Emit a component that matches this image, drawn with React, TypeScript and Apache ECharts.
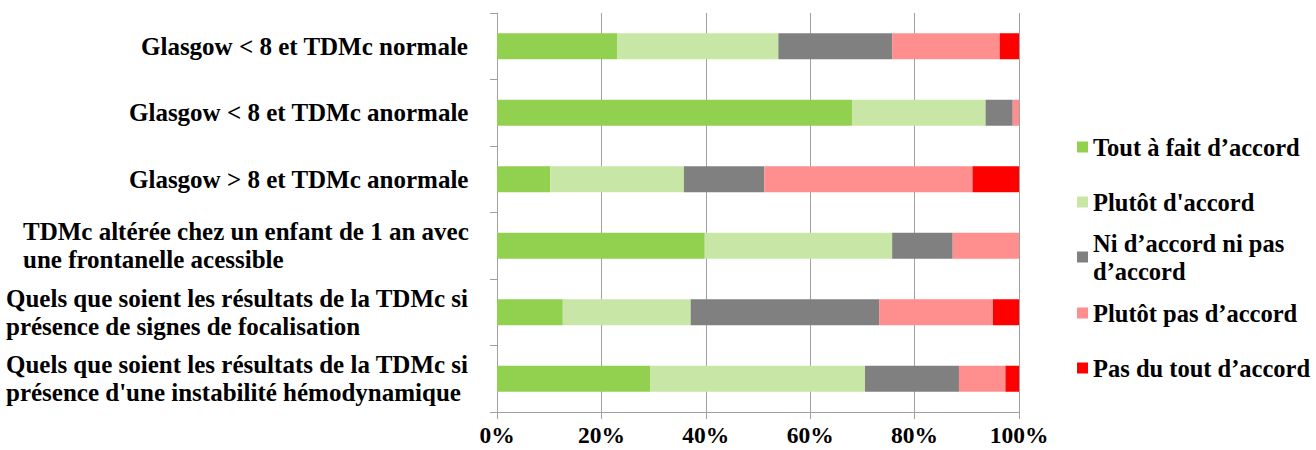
import React, { useEffect, useRef } from "react";
import * as echarts from "echarts";

const categories = [
  "Glasgow < 8 et TDMc normale",
  "Glasgow < 8 et TDMc anormale",
  "Glasgow > 8 et TDMc anormale",
  "TDMc altérée chez un enfant de 1 an avec\nune frontanelle acessible",
  "Quels que soient les résultats de la TDMc si\nprésence de signes de focalisation",
  "Quels que soient les résultats de la TDMc si\nprésence d'une instabilité hémodynamique",
];

const seriesNames = [
  "Tout à fait d’accord",
  "Plutôt d'accord",
  "Ni d’accord ni pas\nd’accord",
  "Plutôt pas d’accord",
  "Pas du tout d’accord",
];

const toutAFait = [23.0, 68.0, 10.2, 39.8, 12.6, 29.4];
const plutot = [30.9, 25.6, 25.6, 35.9, 24.5, 41.1];
const niNi = [21.8, 5.2, 15.4, 11.6, 36.1, 18.0];
const plutotPas = [20.6, 1.2, 39.9, 12.7, 21.8, 8.9];
const pasDuTout = [3.7, 0, 8.9, 0, 5.0, 2.6];

const xTicks = [0, 20, 40, 60, 80, 100];

const colors = ["#92D050", "#C8E6A5", "#808080", "#FF8F8F", "#FF0000"];
const FONT = "Liberation Serif";

export default function App() {
  const ref = useRef<HTMLDivElement>(null);
  useEffect(() => {
    if (!ref.current) return;
    const chart = echarts.init(ref.current, undefined, { renderer: "svg" });
    const labelSize = 25;
    const canvas = document.createElement("canvas");
    const ctx = canvas.getContext("2d")!;
    ctx.font = `bold ${labelSize}px "Liberation Serif"`;
    const rich: Record<string, any> = {};
    categories.forEach((c, i) => {
      const w = Math.max(...c.split("\n").map((l) => ctx.measureText(l).width));
      rich["r" + i] = {
        width: Math.ceil(w) + 1,
        align: "left",
        fontSize: labelSize,
        fontWeight: "bold",
        fontFamily: FONT,
        color: "#000",
        lineHeight: 28,
      };
    });
    const data = [toutAFait, plutot, niNi, plutotPas, pasDuTout];
    const slotCenters = [147, 202, 257, 313, 368];
    const legends = seriesNames.map((n, i) => {
      const two = n.includes("\n");
      return {
        orient: "vertical",
        left: 1077,
        top: two ? slotCenters[i] - 42 : slotCenters[i] - 14,
        padding: 0,
        itemWidth: 11,
        itemHeight: 11,
        itemGap: 0,
        icon: "rect",
        data: [n],
        textStyle: {
          fontSize: 24.5,
          fontWeight: "bold",
          fontFamily: FONT,
          color: "#000",
          lineHeight: 28,
          padding: two ? [28, 0, 0, 0] : 0,
        },
      };
    });
    chart.setOption({
      animation: false,
      backgroundColor: "#fff",
      textStyle: { fontFamily: FONT },
      grid: { left: 497, right: 297, top: 13, bottom: 38, containLabel: false },
      legend: legends,
      xAxis: {
        type: "value",
        min: 0,
        max: 100,
        interval: 20,
        axisLine: { show: true, lineStyle: { color: "#A0A0A0", width: 1 } },
        axisTick: { show: true, length: 7, lineStyle: { color: "#A0A0A0" } },
        splitLine: { show: true, lineStyle: { color: "#A0A0A0", width: 1 } },
        axisLabel: {
          margin: 11,
          fontSize: 23.5,
          fontWeight: "bold",
          fontFamily: FONT,
          color: "#000",
          formatter: (v: number) => (xTicks.includes(v) ? v + "%" : ""),
        },
      },
      yAxis: {
        type: "category",
        inverse: true,
        data: categories,
        axisLine: { show: true, lineStyle: { color: "#A0A0A0", width: 1 } },
        axisTick: { show: true, length: 7, lineStyle: { color: "#A0A0A0" } },
        axisLabel: {
          margin: 27,
          align: "right",
          fontFamily: FONT,
          formatter: (v: string, idx: number) =>
            v
              .split("\n")
              .map((l) => `{r${idx}|${l}}`)
              .join("\n"),
          rich,
        },
      },
      series: seriesNames.map((n, i) => ({
        name: n,
        type: "bar",
        stack: "total",
        barWidth: 26,
        itemStyle: { color: colors[i] },
        data: data[i],
      })),
    });
    return () => chart.dispose();
  }, []);
  return (
    <div
      ref={ref}
      style={{ position: "absolute", left: 0, top: 0, width: 1316, height: 450 }}
    />
  );
}
